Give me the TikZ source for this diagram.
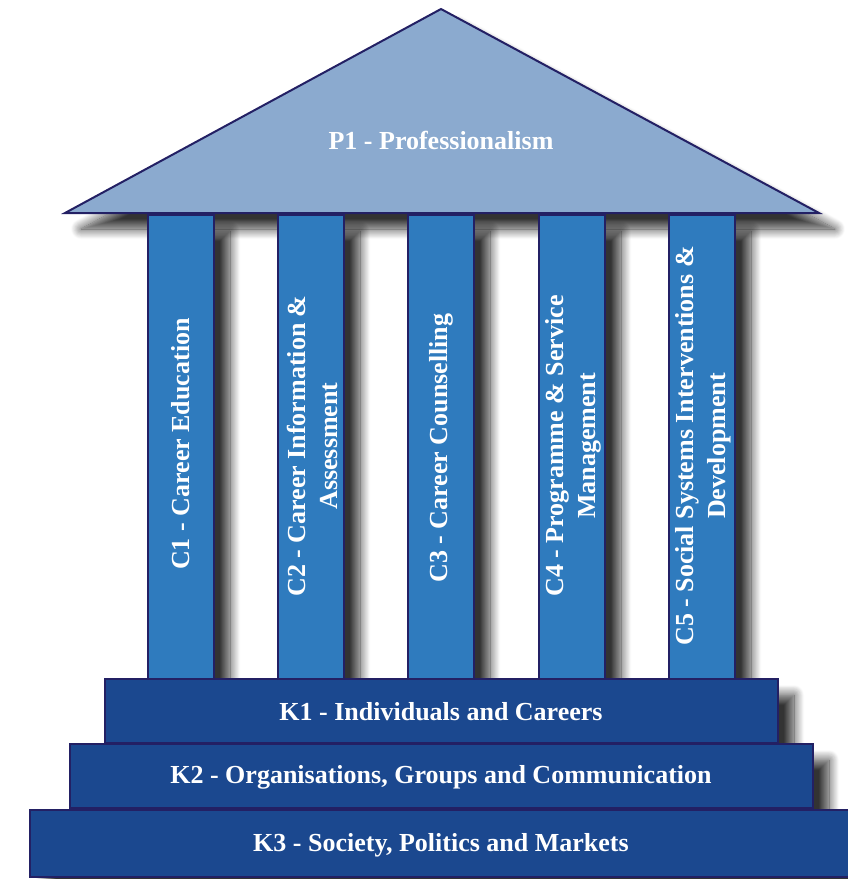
\documentclass[tikz,border=0pt]{standalone}
\usepackage{fontspec}
\setmainfont{Liberation Serif}
\usepackage{tikz}
\usetikzlibrary{shadows.blur}

\definecolor{roofblue}{HTML}{8BAACF}
\definecolor{pillarblue}{HTML}{2F7BBE}
\definecolor{stepblue}{HTML}{1B488F}
\definecolor{edgenavy}{HTML}{232064}

\tikzset{
  drop/.style={blur shadow={shadow xshift=8pt, shadow yshift=-8pt,
      shadow blur radius=5pt, shadow blur steps=14, shadow opacity=80}},
  roof/.style={draw=edgenavy, line width=1pt, fill=roofblue, drop},
  pillar/.style={draw=edgenavy, line width=1pt, fill=pillarblue, drop},
  stepslab/.style={draw=edgenavy, line width=1pt, fill=stepblue, drop},
  label/.style={text=white, font=\fontsize{13}{16}\selectfont\bfseries, align=center},
  pillarlabel/.style={label, rotate=90}
}

\begin{document}
\begin{tikzpicture}[x=0.5pt, y=-0.5pt]
    \useasboundingbox (0,0) rectangle (847,879);
    % roof
    \draw[roof] (441,9) -- (819,213) -- (65,213) -- cycle;
    \node[label] (p1) at (441,140) {P1 - Professionalism};
    % pillars
    \draw[pillar] (148,215) rectangle (214,690);
    \draw[pillar] (278,215) rectangle (344,690);
    \draw[pillar] (408,215) rectangle (474,690);
    \draw[pillar] (539,215) rectangle (605,690);
    \draw[pillar] (669,215) rectangle (735,690);
    \node[pillarlabel] (c1) at (181,444) {C1 - Career Education};
    \node[pillarlabel] (c2) at (312,446) {C2 - Career Information \&\\Assessment};
    \node[pillarlabel] (c3) at (441,448) {C3 - Career Counselling};
    \node[pillarlabel] (c4) at (573,446) {C4 - Programme \& Service\\Management};
    \node[pillarlabel] (c5) at (703,446) {C5 - Social Systems Interventions \&\\Development};
    % steps
    \draw[stepslab] (105,679) rectangle (778,743);
    \node[label] (k1) at (441,712) {K1 - Individuals and Careers};
    \draw[stepslab] (70,744) rectangle (813,808);
    \node[label] (k2) at (441,777) {K2 - Organisations, Groups and Communication};
    \draw[stepslab] (30,810) rectangle (860,877);
    \node[label] (k3) at (441,845) {K3 - Society, Politics and Markets};
\end{tikzpicture}
\end{document}
